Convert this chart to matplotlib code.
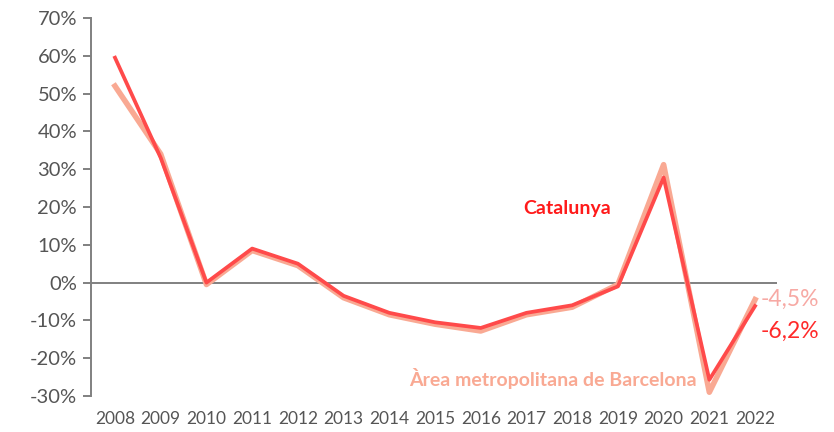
import matplotlib
matplotlib.use("Agg")
import matplotlib.pyplot as plt
from matplotlib.ticker import FuncFormatter

years = list(range(2008, 2023))
catalunya = [59.5, 33.0, 0.0, 9.0, 5.0, -3.5, -8.0, -10.5, -12.0, -8.0, -6.0, -1.0, 27.8, -25.7, -6.2]
amb = [52.0, 34.0, -0.5, 8.5, 4.5, -4.0, -8.5, -11.0, -12.8, -8.5, -6.5, -0.5, 31.2, -29.0, -4.5]

red = "#ff4a4a"
salmon = "#f9a993"

plt.rcParams['font.family'] = ['Lato', 'DejaVu Sans']

fig = plt.figure(figsize=(8.34, 4.32), dpi=100)
ax = fig.add_axes([91/834, 1-396/432, 686/834, 378/432])

ax.plot(years, amb, color=salmon, lw=4.0, solid_joinstyle='round', zorder=2)
ax.plot(years, catalunya, color=red, lw=2.7, solid_joinstyle='round', zorder=3)
ax.axhline(0, color="#808080", lw=1.4, zorder=1)

ax.set_xlim(2007.475, 2022.48)
ax.set_ylim(-30, 70)
ax.set_yticks(range(-30, 71, 10))
ax.yaxis.set_major_formatter(FuncFormatter(lambda v, p: "%d%%" % v))
ax.set_xticks(years)

for s in ['top', 'right', 'bottom']:
    ax.spines[s].set_visible(False)
ax.spines['left'].set_color("#808080")
ax.spines['left'].set_linewidth(1.4)
ax.tick_params(axis='y', colors="#808080", labelcolor="#555555", labelsize=14.5, length=6, width=1.4, pad=4)
ax.tick_params(axis='x', length=0, labelcolor="#555555", labelsize=12.5, pad=11)

ax.text(2017.89, 19.5, "Catalunya", color="#ff1a1a", fontsize=14, fontweight='bold', ha='center', va='center')
ax.text(2017.58, -25.5, "Àrea metropolitana de Barcelona", color=salmon, fontsize=14, fontweight='bold', ha='center', va='center')
ax.text(2022.12, -4.5, "-4,5%", color="#f7a9a4", fontsize=16.5, ha='left', va='center')
ax.text(2022.12, -13.0, "-6,2%", color="#ff2a2a", fontsize=16.5, ha='left', va='center')

fig.savefig("out.png", dpi=100)
